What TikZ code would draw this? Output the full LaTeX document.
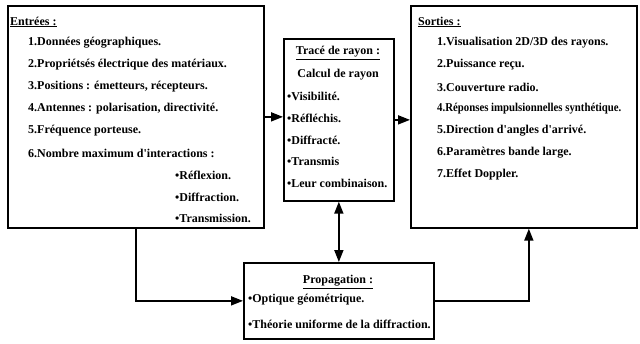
\documentclass[tikz,border=0pt]{standalone}
\usepackage{fontspec}
\setmainfont{Liberation Serif}
\usepackage{tikz}
\usetikzlibrary{arrows.meta}
\newcommand{\puce}{\textbullet}

\begin{document}
\begin{tikzpicture}[x={(1pt,0)}, y={(0,-1pt)},
		box/.style={draw, line width=1.7pt, anchor=north west, inner sep=0pt},
		txt/.style={anchor=west, inner sep=0pt, font=\fontsize{12}{14}\selectfont\bfseries},
		ttl/.style={anchor=center, inner sep=0pt, font=\fontsize{12}{14}\selectfont\bfseries},
		arr/.style={line width=1.7pt, -{Triangle[length=12pt,width=9pt]}},
		arrr/.style={line width=1.7pt, {Triangle[length=12pt,width=9pt]}-{Triangle[length=12pt,width=9pt]}}]
		\useasboundingbox (0,0) rectangle (640,343);
		
		\node[box, minimum width=256pt, minimum height=222pt] (entrees) at (7,5) {};
		\node[box, minimum width=110pt, minimum height=162pt] (trace) at (283,38) {};
		\node[box, minimum width=226pt, minimum height=222pt] (sorties) at (410,5) {};
		\node[box, minimum width=190pt, minimum height=76pt] (propag) at (243,262) {};
		
		
		\node[txt] (e0) at (10,22) {\underline{Entrées :}};
		\node[txt] (e1) at (28,43) {1.Données géographiques.};
		\node[txt] (e2) at (28,65) {2.Propriétsés électrique des matériaux.};
		\node[txt] (e3) at (28,87) {3.Positions : émetteurs, récepteurs.};
		\node[txt] (e4) at (28,109) {4.Antennes : polarisation, directivité.};
		\node[txt] (e5) at (28,131) {5.Fréquence porteuse.};
		\node[txt] (e6) at (28,153) {6.Nombre maximum d\textquotesingle interactions :};
		\node[txt] (e7) at (175,175) {\puce Réflexion.};
		\node[txt] (e8) at (175,197) {\puce Diffraction.};
		\node[txt] (e9) at (175,218) {\puce Transmission.};
		
		\node[ttl] (t0) at (338,53) {\underline{Tracé de rayon :}};
		\node[ttl] (t1) at (338,75) {Calcul de rayon};
		\node[txt] (t2) at (287,96) {\puce Visibilité.};
		\node[txt] (t3) at (287,118) {\puce Réfléchis.};
		\node[txt] (t4) at (287,140) {\puce Diffracté.};
		\node[txt] (t5) at (287,161) {\puce Transmis};
		\node[txt] (t6) at (287,183) {\puce Leur combinaison.};
		
		\node[txt] (s0) at (418,22) {\underline{Sorties :}};
		\node[txt] (s1) at (437,43) {1.Visualisation 2D/3D des rayons.};
		\node[txt] (s2) at (437,65) {2.Puissance reçu.};
		\node[txt] (s3) at (437,87) {3.Couverture radio.};
		\node[txt] (s4) at (437,109) {\addfontfeature{FakeStretch=0.9}4.Réponses impulsionnelles synthétique.};
		\node[txt] (s5) at (437,131) {5.Direction d\textquotesingle angles d\textquotesingle arrivé.};
		\node[txt] (s6) at (437,153) {6.Paramètres bande large.};
		\node[txt] (s7) at (437,175) {7.Effet Doppler.};
		
		\node[ttl] (p0) at (338,282) {\underline{Propagation :}};
		\node[txt] (p1) at (248,300) {\puce Optique géométrique.};
		\node[txt] (p2) at (248,324) {\puce Théorie uniforme de la diffraction.};
		
		
		\draw[arr] (entrees.east) -- (entrees.east -| trace.west);
		\draw[arr] (trace.east) -- (trace.east -| sorties.west);
		\draw[arrr] (trace.south) -- (propag.north);
		\draw[arr] (entrees.south) |- (propag.west);
		\draw[arr] (propag.east) -| ([xshift=5pt]sorties.south);
\end{tikzpicture}
\end{document}
